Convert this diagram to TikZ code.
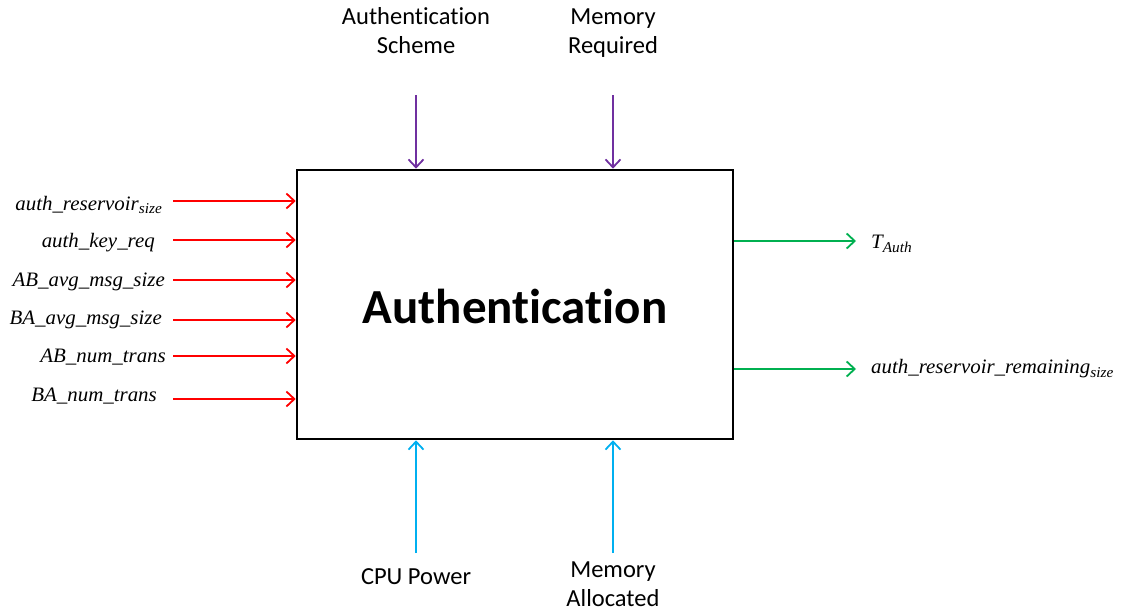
\documentclass[tikz,border=0pt]{standalone}
\usepackage{fontspec}
\setmainfont{Carlito}[Ligatures={NoCommon}]
\newfontfamily\varfont{Liberation Serif}[FakeStretch=1.02]
\usetikzlibrary{arrows.meta}
\definecolor{inred}{HTML}{FF0000}
\definecolor{outgreen}{HTML}{00B050}
\definecolor{ctrlpurple}{HTML}{7030A0}
\definecolor{mechblue}{HTML}{00B0F0}
\newcommand{\vsub}[1]{\raisebox{-0.4ex}{\fontsize{15}{16}\selectfont #1}}
\begin{document}
\begin{tikzpicture}[x=1pt,y=-1pt,
  lbl/.style={font=\fontsize{24.5}{29}\selectfont, align=center, inner sep=0pt},
  var/.style={font=\fontsize{20.5}{22}\selectfont\varfont\itshape, inner sep=0pt},
  arr/.style={line width=1.8pt, -{Straight Barb[length=8pt,width=15pt,line width=1.8pt]}},
  boxstyle/.style={draw, line width=2.6pt, minimum width=436pt, minimum height=269pt, inner sep=0pt}]
\useasboundingbox (0,0) rectangle (1128,613);
\node[boxstyle] (box) at (515,304.5) {};
\node[font=\fontsize{49}{56}\selectfont\bfseries] (title) at (515,306) {Authentication};

% controls
\node[lbl] (scheme) at (416,31) {Authentication\\Scheme};
\node[lbl] (memreq) at (613,33) {Memory\\Required};
\coordinate (cs) at (416,95);
\coordinate (cm) at (613,95);
\draw[arr, ctrlpurple] (cs) -- (cs |- box.north);
\draw[arr, ctrlpurple] (cm) -- (cm |- box.north);

% mechanisms
\node[lbl] (cpu) at (416,577) {CPU Power};
\node[lbl] (memalloc) at (613,584) {Memory\\Allocated};
\coordinate (mc) at (416,553);
\coordinate (mm) at (613,553);
\draw[arr, mechblue] (mc) -- (mc |- box.south);
\draw[arr, mechblue] (mm) -- (mm |- box.south);

% inputs
\node[var, anchor=east] (i1) at (162,205) {auth\_reservoir\vsub{size}};
\node[var, anchor=east] (i2) at (155,243) {auth\_key\_req};
\node[var, anchor=east] (i3) at (165,282) {AB\_avg\_msg\_size};
\node[var, anchor=east] (i4) at (162,320) {BA\_avg\_msg\_size};
\node[var, anchor=east] (i5) at (166,357) {AB\_num\_trans};
\node[var, anchor=east] (i6) at (157,396) {BA\_num\_trans};
\foreach \n/\y in {1/201,2/240,3/280,4/320,5/356,6/399}{
  \coordinate (ci\n) at (173,\y);
  \draw[arr, inred] (ci\n) -- (ci\n -| box.west);
}

% outputs
\coordinate (co1) at (856,241);
\coordinate (co2) at (856,369);
\draw[arr, outgreen] (co1 -| box.east) -- (co1);
\draw[arr, outgreen] (co2 -| box.east) -- (co2);
\node[var, anchor=west] (o1) at (871,244) {T\vsub{Auth}};
\node[var, anchor=west] (o2) at (871,369) {auth\_reservoir\_remaining\vsub{size}};
\end{tikzpicture}
\end{document}
